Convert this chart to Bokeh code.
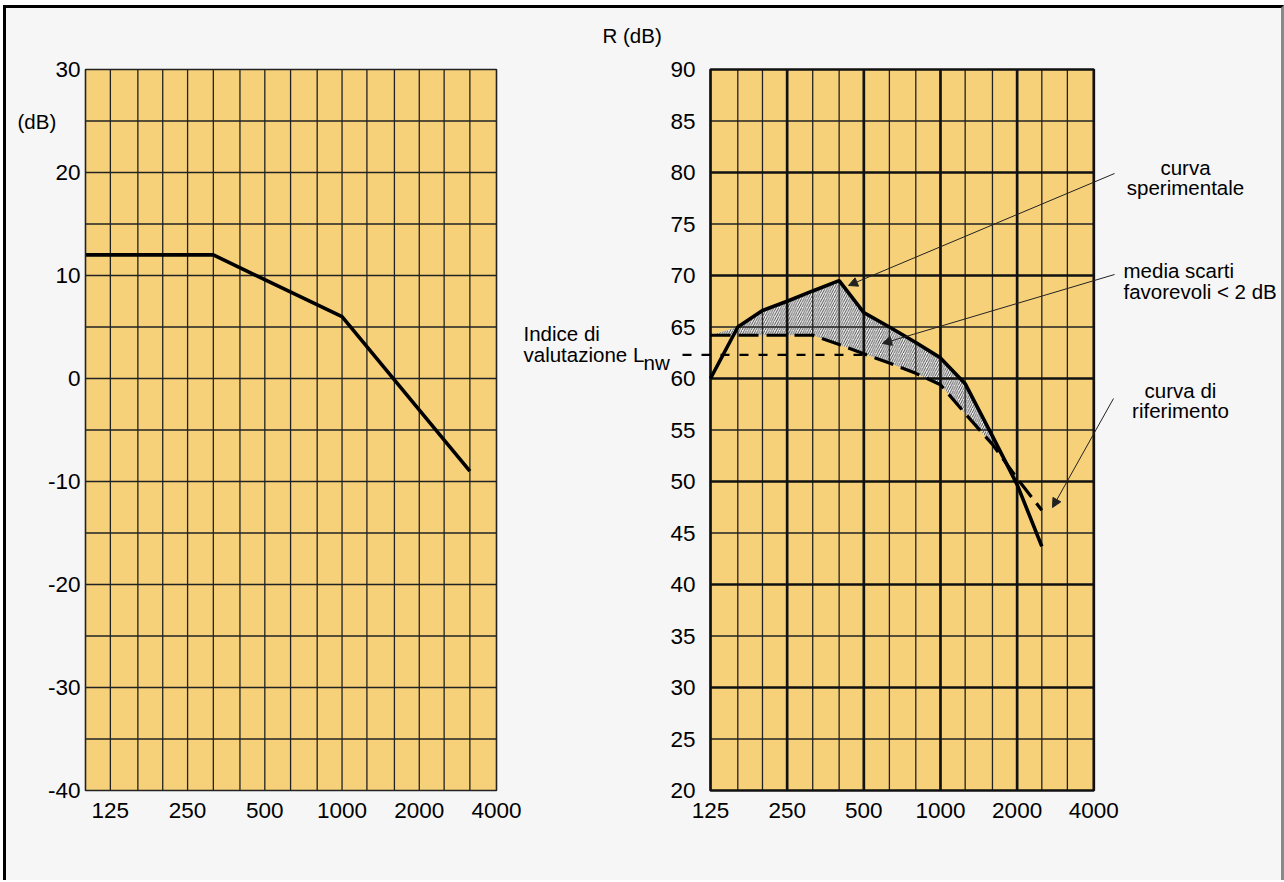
import numpy as np
from bokeh.plotting import figure
from bokeh.layouts import row
from bokeh.models import (FixedTicker, Label, Arrow, NormalHead, PrintfTickFormatter,
                          LogAxis, LinearAxis, LogScale, Range1d)
from bokeh.embed import file_html
from bokeh.resources import INLINE

# ------------------------------------------------------------------ data
# left chart: adaptation term (dB) vs third-octave band (Hz)
left_xlim = [100, 4000]
left_ylim = [-40, 30]
left_freq = [100, 315, 1000, 3150]
left_db = [12, 12, 6, -9]
left_xticks = [125, 250, 500, 1000, 2000, 4000]
left_yticks = [-40, -30, -20, -10, 0, 10, 20, 30]
left_grid_x = [125, 160, 200, 250, 315, 400, 500, 630, 800, 1000, 1250, 1600, 2000, 2500, 3150]
left_grid_y = [-35, -30, -25, -20, -15, -10, -5, 0, 5, 10, 15, 20, 25]

# right chart: R (dB) vs third-octave band (Hz)
right_xlim = [125, 4000]
right_ylim = [20, 90]
bands = [125, 160, 200, 250, 315, 400, 500, 630, 800, 1000, 1250, 1600, 2000, 2500]
measured = [60.0, 65.0, 66.6, 67.5, 68.5, 69.5, 66.4, 65.0, 63.5, 62.0, 59.5, 54.4, 49.7, 43.7]
reference = [64.2, 64.2, 64.2, 64.2, 64.2, 63.3, 62.4, 61.5, 60.5, 59.4, 56.6, 53.6, 50.3, 47.2]
lnw_value = 62.3
lnw_band = 500
right_xticks = [125, 250, 500, 1000, 2000, 4000]
right_yticks = [20, 25, 30, 35, 40, 45, 50, 55, 60, 65, 70, 75, 80, 85, 90]
right_thirds = [160, 200, 315, 400, 630, 800, 1250, 1600, 2500, 3150]
right_octaves = [250, 500, 1000, 2000]
right_minor_y = [25, 35, 45, 55, 65, 75, 85]
right_major_y = [30, 40, 50, 60, 70, 80]

# ------------------------------------------------------------------ style / layout
BG = "#f6f6f6"
YEL = "#f6d17a"
GRID = "#222222"
DARK = "#111111"
FONT = "Liberation Sans"
TICK_SIZE = "22.5px"
TEXT_SIZE = "20.5px"
W, H = 1275, 872
ORIG = (6, 8)                      # page position of the canvas (= frame)
L_BOX = (85, 496, 69, 790)         # page px of left plotting box: left, right, top, bottom
R_BOX = (710, 1093.3, 69, 790)     # page px of right plotting box


def log_range(v0, p0, v1, p1):
    k = (np.log10(v1) - np.log10(v0)) / (p1 - p0)
    a = np.log10(v0) + (ORIG[0] - p0) * k
    b = np.log10(v0) + (ORIG[0] + W - p0) * k
    return Range1d(10 ** a, 10 ** b)


def lin_range(v_top, p_top, v_bot, p_bot):
    k = (v_bot - v_top) / (p_bot - p_top)
    top = v_top + (ORIG[1] - p_top) * k
    bot = v_top + (ORIG[1] + H - p_top) * k
    return Range1d(bot, top)


p = figure(width=W, height=H, x_axis_type="log", x_axis_location=None, y_axis_location=None,
           x_range=log_range(left_xlim[0], L_BOX[0], left_xlim[1], L_BOX[1]),
           y_range=lin_range(left_ylim[1], L_BOX[2], left_ylim[0], L_BOX[3]),
           min_border=0, min_border_left=0, min_border_right=0, min_border_top=0,
           min_border_bottom=0, output_backend="svg", toolbar_location=None,
           background_fill_color=BG, border_fill_color=BG, outline_line_color=None)
p.grid.visible = False
p.extra_x_ranges = {"r": log_range(right_xlim[0], R_BOX[0], right_xlim[1], R_BOX[1])}
p.extra_y_ranges = {"r": lin_range(right_ylim[1], R_BOX[2], right_ylim[0], R_BOX[3])}
p.extra_x_scales = {"r": LogScale()}
RN = dict(x_range_name="r", y_range_name="r")


def style_axis(ax, standoff):
    ax.axis_line_color = None
    ax.major_tick_line_color = None
    ax.minor_tick_line_color = None
    ax.major_tick_out = 0
    ax.minor_tick_out = 0
    ax.major_tick_in = 0
    ax.minor_tick_in = 0
    ax.major_label_text_font = FONT
    ax.major_label_text_font_size = TICK_SIZE
    ax.major_label_text_color = "black"
    ax.major_label_standoff = standoff
    ax.formatter = PrintfTickFormatter(format="%d")
    return ax


def grid(xs, ys, xlim, ylim, width, color, names):
    p.segment(x0=xs, x1=xs, y0=[ylim[0]] * len(xs), y1=[ylim[1]] * len(xs),
              line_color=color, line_width=width, **names)
    p.segment(x0=[xlim[0]] * len(ys), x1=[xlim[1]] * len(ys), y0=ys, y1=ys,
              line_color=color, line_width=width, **names)


# ------------------------------------------------------------------ left chart
p.quad(left=[left_xlim[0]], right=[left_xlim[1]], bottom=[left_ylim[0]], top=[left_ylim[1]],
       fill_color=YEL, line_color=None)
grid(left_grid_x, left_grid_y, left_xlim, left_ylim, 1.3, GRID, {})
p.line(left_freq, left_db, line_width=3.6, color="black")
p.quad(left=[left_xlim[0]], right=[left_xlim[1]], bottom=[left_ylim[0]], top=[left_ylim[1]],
       fill_color=None, line_color=GRID, line_width=1.6)
p.add_layout(style_axis(LogAxis(fixed_location=left_ylim[0],
                                ticker=FixedTicker(ticks=left_xticks)), 12), "below")
p.add_layout(style_axis(LinearAxis(fixed_location=left_xlim[0],
                                   ticker=FixedTicker(ticks=left_yticks)), 5), "left")

# ------------------------------------------------------------------ right chart
p.quad(left=[right_xlim[0]], right=[right_xlim[1]], bottom=[right_ylim[0]], top=[right_ylim[1]],
       fill_color=YEL, line_color=None, **RN)
upper = np.maximum(np.array(measured), np.array(reference))
p.varea(x=bands, y1=reference, y2=upper, fill_color="#f6f6f6",
        hatch_pattern="/", hatch_color="black", hatch_scale=4.6, hatch_weight=0.7, **RN)
grid(right_thirds, right_minor_y, right_xlim, right_ylim, 1.3, GRID, RN)
grid(right_octaves, right_major_y, right_xlim, right_ylim, 2.7, DARK, RN)
p.quad(left=[right_xlim[0]], right=[right_xlim[1]], bottom=[right_ylim[0]], top=[right_ylim[1]],
       fill_color=None, line_color=DARK, line_width=2.7, **RN)
p.line(bands, reference, line_width=3.2, color="black", line_dash="20 8", **RN)
p.line(bands, measured, line_width=3.6, color="black", **RN)

# L_nw index leader: from the label (page x 682) to the 500 Hz band
LNW_LEADER_PX = 682
px_per_dec = (R_BOX[1] - R_BOX[0]) / (np.log10(right_xlim[1]) - np.log10(right_xlim[0]))
lnw_start = right_xlim[0] * 10 ** ((LNW_LEADER_PX - R_BOX[0]) / px_per_dec)
p.line([lnw_start, lnw_band], [lnw_value, lnw_value], line_color="black", line_width=2.2,
       line_dash="9 10", **RN)

p.add_layout(style_axis(LogAxis(fixed_location=right_ylim[0],
                                ticker=FixedTicker(ticks=right_xticks), **RN), 12), "below")
p.add_layout(style_axis(LinearAxis(fixed_location=right_xlim[0],
                                   ticker=FixedTicker(ticks=right_yticks), **RN), 15), "left")


# ------------------------------------------------------------------ texts & callouts
def lab(px, py, text, align="left", baseline="alphabetic", size=TEXT_SIZE):
    p.add_layout(Label(x=px - ORIG[0], y=py - ORIG[1], x_units="canvas", y_units="canvas",
                       text=text, text_align=align, text_baseline=baseline,
                       text_font=FONT, text_font_size=size, text_color="black"))


lab(17, 121, "(dB)", baseline="middle")
lab(602, 35, "R (dB)", baseline="middle")
lab(523, 333, "Indice di")
lab(523, 354, "valutazione L")
lab(643, 362, "nw")
lab(1185, 167, "curva", align="center")
lab(1185, 187, "sperimentale", align="center")
lab(1123, 270, "media scarti")
lab(1123, 291, "favorevoli < 2 dB")
lab(1180, 390, "curva di", align="center")
lab(1180, 410, "riferimento", align="center")

callouts = [((1114, 173), (848, 285)), ((1114, 274), (882, 343)), ((1113, 398), (1052, 507))]
for (x0, y0), (x1, y1) in callouts:
    p.add_layout(Arrow(x_start=x0 - ORIG[0], y_start=y0 - ORIG[1],
                       x_end=x1 - ORIG[0], y_end=y1 - ORIG[1],
                       start_units="canvas", end_units="canvas",
                       line_color="#222222", line_width=1.0,
                       end=NormalHead(size=9, fill_color="#222222", line_color="#222222",
                                      line_width=1)))

layout = row(p, styles={"border-top": "3px solid black", "border-left": "3px solid black",
                        "border-right": "3px solid #888888", "background-color": BG,
                        "margin-left": "3px", "margin-top": "5px"})

open("out.html", "w").write(file_html(layout, INLINE))
